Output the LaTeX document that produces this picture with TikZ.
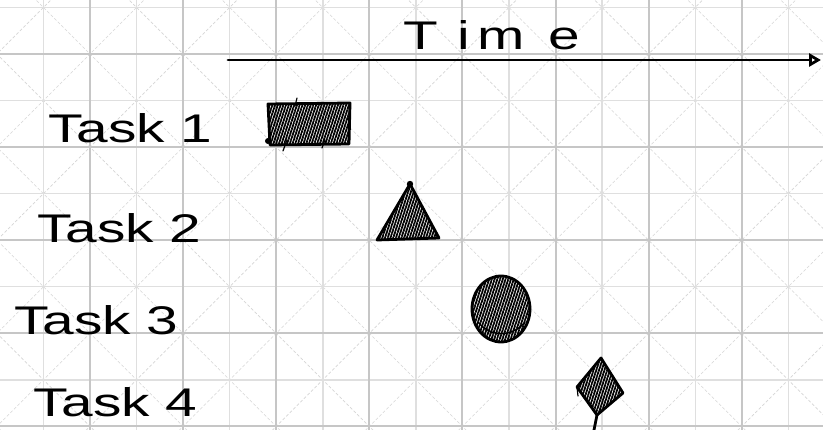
\documentclass[tikz,border=0pt]{standalone}
\usepackage{fontspec}
\setmainfont{Liberation Sans}
\newfontfamily\hand[FakeStretch=1.42]{Liberation Sans}
\usetikzlibrary{arrows.meta,patterns.meta}
\begin{document}
\begin{tikzpicture}[x=1pt,y=-1pt,
  thickgrid/.style={draw=gray!45,line width=2pt},
  thingrid/.style={draw=gray!25,line width=1.4pt},
  diag/.style={draw=gray!32,line width=0.6pt,dash pattern=on 3pt off 2pt},
  ink/.style={draw=black,line width=2.8pt,line join=round,line cap=round},
  thinink/.style={draw=black,line width=1.2pt,line cap=round},
  hatch/.style={pattern={Lines[angle=72,distance=2.6pt,line width=1.8pt]},pattern color=black},
  tasklabel/.style={anchor=base west,inner sep=0pt,font=\hand\fontsize{40}{40}\selectfont}
]
\useasboundingbox (0,0) rectangle (823,430);
\fill[white] (0,0) rectangle (823,430);
% grid paper
\begin{scope}
\clip (0,0) rectangle (823,430);
\foreach \a in {-5,...,9} {
  \draw[diag] ({36+93.1*\a-10},-10) -- ({36+93.1*\a+440},440);
}
\foreach \b in {-2,...,12} {
  \draw[diag] ({144+93.1*\b+10},-10) -- ({144+93.1*\b-440},440);
}
\foreach \n in {0,2,...,16} { \draw[thingrid] ({43.5+46.55*\n},0) -- ({43.5+46.55*\n},430); }
\foreach \m in {0,2,...,8} { \draw[thingrid] (0,{7.5+46.55*\m}) -- (823,{7.5+46.55*\m}); }
\foreach \n in {1,3,...,15} { \draw[thickgrid] ({43.5+46.55*\n},0) -- ({43.5+46.55*\n},430); }
\foreach \m in {1,3,...,9} { \draw[thickgrid] (0,{7.5+46.55*\m}) -- (823,{7.5+46.55*\m}); }
\end{scope}

% time axis
\coordinate (axisstart) at (228,60);
\coordinate (axisend) at (821,60);
\draw[ink,line width=2.8pt,-{Triangle[open,length=12pt,width=13pt]}] (axisstart) -- (axisend);
\node[tasklabel] (time) at (403,50) {T\hspace{20pt}i\hspace{7pt}m\hspace{24pt}e};

% task labels
\node[tasklabel] (t1) at (48,143) {Task 1};
\node[tasklabel] (t2) at (37,243) {Task 2};
\node[tasklabel] (t3) at (14,335) {Task 3};
\node[tasklabel] (t4) at (33,417) {Task 4};

% task 1: rectangle
\draw[ink,hatch] (268,104) -- (350,103) -- (349,144) -- (270,145) -- cycle;
\draw[thinink] (297,98) -- (295,106);
\draw[thinink] (283,151) -- (287,140);
\draw[thinink] (322,148) -- (325,140);
\fill (268,141) circle (3);

% task 2: triangle
\draw[ink,hatch] (410,184) -- (439,238) -- (377,240) -- cycle;
\fill (410,184) circle (3.2);

% task 3: circle
\draw[ink,hatch] (501,309) ellipse [x radius=29, y radius=33];
\draw[line width=1.4pt] (478,322) .. controls (490,337) and (512,338) .. (525,322);

% task 4: diamond
\draw[ink,hatch] (601,358) -- (623,393) -- (597,415) -- (577,387) -- cycle;
\draw[ink] (597,415) -- (594,430);
\draw[thinink] (577,387) -- (578,396);
\end{tikzpicture}
\end{document}
